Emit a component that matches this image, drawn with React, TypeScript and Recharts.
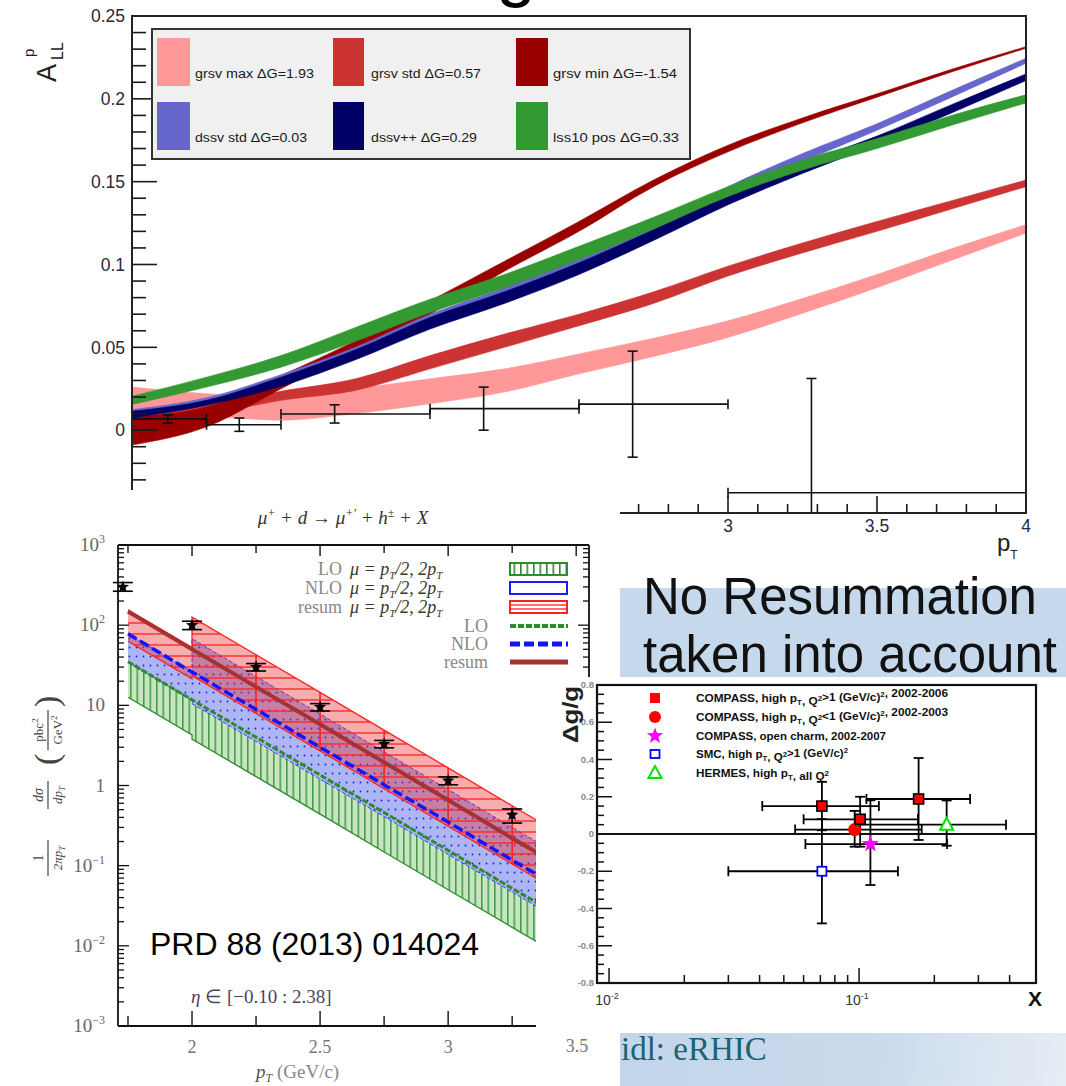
import React from "react";
import {
  ComposedChart, ScatterChart, Area, Line, Scatter,
  XAxis, YAxis, ErrorBar, ReferenceLine,
} from "recharts";

const SANS = "'Liberation Sans', Arial, Helvetica, sans-serif";
const SERIF = "'Liberation Serif', 'Times New Roman', serif";

// ── A_LL^p : model bands vs p_T ──────────────────────────────────────────────
const pTGrid = [1.0, 1.25, 1.5, 1.75, 2.0, 2.25, 2.5, 2.75, 3.0, 3.25, 3.5, 3.75, 4.0];
const grsvMaxLo = [0.006, 0.008, 0.006, 0.010, 0.016, 0.023, 0.034, 0.0445, 0.056, 0.0705, 0.086, 0.1025, 0.119];
const grsvMaxHi = [0.026, 0.022, 0.020, 0.025, 0.031, 0.037, 0.046, 0.0555, 0.066, 0.0795, 0.094, 0.1095, 0.124];
const grsvStdLo = [0.000, 0.009, 0.018, 0.024, 0.037, 0.050, 0.063, 0.0765, 0.093, 0.107, 0.120, 0.1335, 0.147];
const grsvStdHi = [0.007, 0.015, 0.0235, 0.031, 0.045, 0.058, 0.070, 0.0835, 0.099, 0.113, 0.126, 0.1385, 0.151];
const grsvMinLo = [-0.009, 0.002, 0.025, 0.048, 0.070, 0.096, 0.120, 0.147, 0.168, 0.1855, 0.201, 0.2162, 0.2305];
const grsvMinHi = [0.008, 0.014, 0.033, 0.054, 0.078, 0.102, 0.126, 0.151, 0.172, 0.1885, 0.203, 0.2178, 0.2315];
const dssvStdLo = [0.009, 0.016, 0.028, 0.044, 0.063, 0.079, 0.097, 0.118, 0.142, 0.162, 0.181, 0.201, 0.2215];
const dssvStdHi = [0.0125, 0.0195, 0.0335, 0.050, 0.070, 0.086, 0.104, 0.124, 0.147, 0.167, 0.185, 0.205, 0.2245];
const dssvPPLo = [0.0074, 0.015, 0.0265, 0.0425, 0.061, 0.0765, 0.094, 0.1145, 0.136, 0.155, 0.1725, 0.1915, 0.211];
const dssvPPHi = [0.0114, 0.018, 0.032, 0.0485, 0.068, 0.0835, 0.101, 0.121, 0.142, 0.161, 0.1775, 0.1965, 0.215];
const lss10Lo = [0.0155, 0.026, 0.038, 0.0536, 0.071, 0.086, 0.103, 0.1215, 0.141, 0.157, 0.170, 0.184, 0.1975];
const lss10Hi = [0.0205, 0.032, 0.045, 0.062, 0.079, 0.094, 0.111, 0.1285, 0.147, 0.163, 0.176, 0.190, 0.2025];

// measured asymmetry, one entry per p_T bin
const binCenter = [1.12, 1.36, 1.68, 2.18, 2.68, 3.28];
const binLow = [1.0, 1.25, 1.5, 2.0, 2.5, 3.0];
const binHigh = [1.25, 1.5, 2.0, 2.5, 3.0, 4.0];
const allValue = [0.0068, 0.0033, 0.0098, 0.013, 0.0157, -0.0378];
const allError = [0.0025, 0.004, 0.0055, 0.013, 0.032, 0.069];

const allTicksY = [-0.05, -0.04, -0.03, -0.02, -0.01, 0, 0.01, 0.02, 0.03, 0.04, 0.05, 0.06, 0.07, 0.08, 0.09, 0.1,
  0.11, 0.12, 0.13, 0.14, 0.15, 0.16, 0.17, 0.18, 0.19, 0.2, 0.21, 0.22, 0.23, 0.24, 0.25];
const allLabelY = [0, 0.05, 0.1, 0.15, 0.2, 0.25];
const allTicksX = [1, 1.1, 1.2, 1.3, 1.4, 1.5, 1.6, 1.7, 1.8, 1.9, 2, 2.1, 2.2, 2.3, 2.4, 2.5, 2.6, 2.7, 2.8, 2.9,
  3, 3.1, 3.2, 3.3, 3.4, 3.5, 3.6, 3.7, 3.8, 3.9, 4];
const allLabelX = [3, 3.5, 4];

const allLegend = [
  { label: "grsv max \u0394G=1.93", color: "#ff9999", w: 119 },
  { label: "grsv std \u0394G=0.57", color: "#cc3333", w: 110 },
  { label: "grsv min \u0394G=-1.54", color: "#990000", w: 124 },
  { label: "dssv std \u0394G=0.03", color: "#6666cc", w: 112 },
  { label: "dssv++ \u0394G=0.29", color: "#000066", w: 106 },
  { label: "lss10 pos \u0394G=0.33", color: "#339933", w: 126 },
];

// ── COMPASS cross section, mu d -> mu h X ───────────────────────────────────
const sigmaPt = [1.75, 2.0, 2.0, 2.25, 2.5, 2.75, 3.0, 3.25, 3.5];
const loBandLo = [12.6, 4.27, 3.8, 1.29, 0.44, 0.148, 0.05, 0.017, 0.0058];
const loBandHi = [34.7, 11.7, 12.0, 4.07, 1.38, 0.47, 0.158, 0.054, 0.018];
const nloBandLo = [34.7, 11.7, 10.5, 3.55, 1.2, 0.41, 0.138, 0.047, 0.0158];
const nloBandHi = [77.6, 26.3, 67.6, 22.9, 7.8, 2.63, 0.89, 0.3, 0.102];
const resumBandLo = [63, 21.4, 23.4, 7.9, 2.7, 0.91, 0.31, 0.105, 0.035];
const resumBandHi = [155, 52.5, 126, 42.7, 14.5, 4.9, 1.66, 0.56, 0.19];
const loCentral = [35, 11.7, 11.7, 4.0, 1.35, 0.46, 0.155, 0.052, 0.018];
const nloCentral = [78, 26, 26, 8.9, 3.0, 1.02, 0.35, 0.117, 0.04];
const resumCentral = [148, 50, 50, 17, 5.8, 1.95, 0.66, 0.22, 0.076];

const compassPt = [1.73, 2.0, 2.25, 2.5, 2.75, 3.0, 3.25];
const compassSigma = [300, 100, 30, 9.5, 3.3, 1.15, 0.43];
const compassErrLo = [35, 12, 3.2, 1.0, 0.35, 0.13, 0.09];
const compassErrHi = [40, 12, 3.2, 1.0, 0.35, 0.13, 0.08];

const blTicksX = [1.75, 2, 2.25, 2.5, 2.75, 3, 3.25, 3.5];
const blTicksY = [
  0.001, 0.002, 0.003, 0.004, 0.005, 0.006, 0.007, 0.008, 0.009,
  0.01, 0.02, 0.03, 0.04, 0.05, 0.06, 0.07, 0.08, 0.09,
  0.1, 0.2, 0.3, 0.4, 0.5, 0.6, 0.7, 0.8, 0.9,
  1, 2, 3, 4, 5, 6, 7, 8, 9,
  10, 20, 30, 40, 50, 60, 70, 80, 90,
  100, 200, 300, 400, 500, 600, 700, 800, 900, 1000,
];

// ── Delta g / g world data ──────────────────────────────────────────────────
const highPtQ2X = [0.071, 0.101, 0.173];
const highPtQ2Y = [0.15, 0.079, 0.188];
const highPtQ2XLo = [0.030, 0.041, 0.066];
const highPtQ2XHi = [0.049, 0.071, 0.105];
const highPtQ2YLo = [0.13, 0.147, 0.22];
const highPtQ2YHi = [0.13, 0.121, 0.22];

const lowQ2X = [0.096];
const lowQ2Y = [0.024];
const lowQ2XLo = [0.0405];
const lowQ2XHi = [0.082];
const lowQ2YLo = [0.092];
const lowQ2YHi = [0.10];

const charmX = [0.111];
const charmY = [-0.054];
const charmXLo = [0.05];
const charmXHi = [0.114];
const charmYLo = [0.22];
const charmYHi = [0.235];

const smcX = [0.071];
const smcY = [-0.2];
const smcXLo = [0.041];
const smcXHi = [0.072];
const smcYLo = [0.28];
const smcYHi = [0.28];

const hermesX = [0.224];
const hermesY = [0.05];
const hermesXLo = [0.124];
const hermesXHi = [0.163];
const hermesYLo = [0.113];
const hermesYHi = [0.13];

const dgTicksX = [0.01, 0.02, 0.03, 0.04, 0.05, 0.06, 0.07, 0.08, 0.09, 0.1, 0.2, 0.3, 0.4];
const dgTicksY = [-0.8, -0.75, -0.7, -0.65, -0.6, -0.55, -0.5, -0.45, -0.4, -0.35, -0.3, -0.25, -0.2, -0.15, -0.1,
  -0.05, 0, 0.05, 0.1, 0.15, 0.2, 0.25, 0.3, 0.35, 0.4, 0.45, 0.5, 0.55, 0.6, 0.65, 0.7, 0.75, 0.8];

// ── rows for the charts ─────────────────────────────────────────────────────
const allRows = pTGrid.map((p, i) => ({
  p,
  grsvMax: [grsvMaxLo[i], grsvMaxHi[i]],
  grsvStd: [grsvStdLo[i], grsvStdHi[i]],
  grsvMin: [grsvMinLo[i], grsvMinHi[i]],
  dssvStd: [dssvStdLo[i], dssvStdHi[i]],
  dssvPP: [dssvPPLo[i], dssvPPHi[i]],
  lss10: [lss10Lo[i], lss10Hi[i]],
}));

const binRows = binCenter.map((p, i) => ({
  p,
  a: allValue[i],
  ex: [p - binLow[i], binHigh[i] - p],
  ey: allError[i],
}));

const sigmaRows = sigmaPt.map((p, i) => ({
  p,
  lo: [loBandLo[i], loBandHi[i]],
  nlo: [nloBandLo[i], nloBandHi[i]],
  resum: [resumBandLo[i], resumBandHi[i]],
  loC: loCentral[i],
  nloC: nloCentral[i],
  resumC: resumCentral[i],
}));

const compassRows = compassPt.map((p, i) => ({
  p,
  v: compassSigma[i],
  e: [compassErrLo[i], compassErrHi[i]],
}));

const dgRows = (xs: number[], ys: number[], xl: number[], xh: number[], yl: number[], yh: number[]) =>
  xs.map((x, i) => ({ x, y: ys[i], ex: [xl[i], xh[i]], ey: [yl[i], yh[i]] }));

const highPtQ2Rows = dgRows(highPtQ2X, highPtQ2Y, highPtQ2XLo, highPtQ2XHi, highPtQ2YLo, highPtQ2YHi);
const lowQ2Rows = dgRows(lowQ2X, lowQ2Y, lowQ2XLo, lowQ2XHi, lowQ2YLo, lowQ2YHi);
const charmRows = dgRows(charmX, charmY, charmXLo, charmXHi, charmYLo, charmYHi);
const smcRows = dgRows(smcX, smcY, smcXLo, smcXHi, smcYLo, smcYHi);
const hermesRows = dgRows(hermesX, hermesY, hermesXLo, hermesXHi, hermesYLo, hermesYHi);

// ── helpers ─────────────────────────────────────────────────────────────────
const isMultiple = (v: number, step: number) => Math.abs(v / step - Math.round(v / step)) < 1e-6;
const isDecade = (v: number) => {
  const e = Math.log10(v);
  return Math.abs(e - Math.round(e)) < 1e-6;
};
const inList = (v: number, list: number[]) => list.some((t) => Math.abs(t - v) < 1e-6);
const fmt = (v: number) => String(Math.round(v * 100) / 100);

function starPath(cx: number, cy: number, R: number, r: number) {
  let d = "";
  for (let k = 0; k < 10; k++) {
    const ang = -Math.PI / 2 + (k * Math.PI) / 5;
    const rad = k % 2 === 0 ? R : r;
    d += (k === 0 ? "M" : "L") + (cx + rad * Math.cos(ang)).toFixed(2) + "," + (cy + rad * Math.sin(ang)).toFixed(2);
  }
  return d + "Z";
}

// ── tick renderers (ROOT style, ticks point into the frame) ─────────────────
const AllYTick = (p: any) => {
  const v = p.payload.value;
  const major = isMultiple(v, 0.05);
  return (
    <g>
      <line x1={p.x} x2={p.x + (major ? 25 : 14)} y1={p.y} y2={p.y} stroke="#1a1a1a" strokeWidth={1.6} />
      {inList(v, allLabelY) && (
        <text x={p.x - 7} y={p.y} dy="0.36em" textAnchor="end" fontFamily={SANS} fontSize={17.5} fill="#2a2a3a">
          {fmt(v)}
        </text>
      )}
    </g>
  );
};

const AllXTick = (p: any) => {
  const v = p.payload.value;
  const major = isMultiple(v, 0.5);
  return (
    <g>
      <line x1={p.x} x2={p.x} y1={p.y} y2={p.y - (major ? 17 : 9)} stroke="#1a1a1a" strokeWidth={1.6} />
      {inList(v, allLabelX) && (
        <text x={p.x} y={p.y + 19} textAnchor="middle" fontFamily={SANS} fontSize={17.5} fill="#2a2a3a">
          {fmt(v)}
        </text>
      )}
    </g>
  );
};

const decadeLabel = (v: number) => {
  const e = Math.round(Math.log10(v));
  if (e === 0) return <tspan>1</tspan>;
  if (e === 1) return <tspan>10</tspan>;
  return (
    <>
      <tspan>10</tspan>
      <tspan fontSize={12} dy={-8}>{e < 0 ? "\u2212" + -e : String(e)}</tspan>
    </>
  );
};

const BlLeftTick = (p: any) => {
  const v = p.payload.value;
  const major = isDecade(v);
  return (
    <g>
      <line x1={p.x} x2={p.x + (major ? 11 : 6)} y1={p.y} y2={p.y} stroke="#111" strokeWidth={1.3} />
      {major && (
        <text x={p.x - 13} y={p.y + 6} textAnchor="end" fontFamily={SERIF} fontSize={19} fill="#666">
          {decadeLabel(v)}
        </text>
      )}
    </g>
  );
};

const BlRightTick = (p: any) => {
  const major = isDecade(p.payload.value);
  return <line x1={p.x} x2={p.x - (major ? 11 : 6)} y1={p.y} y2={p.y} stroke="#111" strokeWidth={1.3} />;
};

const BlBottomTick = (p: any) => {
  const v = p.payload.value;
  const major = isMultiple(v, 0.5);
  return (
    <g>
      <line x1={p.x} x2={p.x} y1={p.y} y2={p.y - (major ? 15 : 10)} stroke="#111" strokeWidth={1.4} />
      {major && v < 3.4 && (
        <text x={p.x} y={p.y + 27} textAnchor="middle" fontFamily={SERIF} fontSize={18} fill="#777">
          {fmt(v)}
        </text>
      )}
    </g>
  );
};

const BlTopTick = (p: any) => {
  const major = isMultiple(p.payload.value, 0.5);
  return <line x1={p.x} x2={p.x} y1={p.y} y2={p.y + (major ? 11 : 8)} stroke="#111" strokeWidth={1.4} />;
};

const DgYTick = (p: any) => {
  const v = p.payload.value;
  const major = isMultiple(v, 0.2);
  return (
    <g>
      <line x1={p.x} x2={p.x + (major ? 15 : 7)} y1={p.y} y2={p.y} stroke="#111" strokeWidth={1.5} />
      {major && (
        <text x={p.x - 3} y={p.y + 3} textAnchor="end" fontFamily={SANS} fontWeight="bold" fontSize={9.5} fill="#8a8a8a">
          {fmt(v)}
        </text>
      )}
    </g>
  );
};

const DgXTick = (p: any) => {
  const v = p.payload.value;
  const major = isDecade(v);
  const e = Math.round(Math.log10(v));
  return (
    <g>
      <line x1={p.x} x2={p.x} y1={p.y} y2={p.y - (major ? 15 : 8)} stroke="#111" strokeWidth={1.5} />
      {major && (
        <text x={p.x - 2} y={p.y + 22} textAnchor="middle" fontFamily={SANS} fontSize={14} fill="#333">
          10<tspan fontSize={9} dy={-6}>{String(e)}</tspan>
        </text>
      )}
    </g>
  );
};

// ── marker shapes ───────────────────────────────────────────────────────────
const NoMark = () => <g />;
const BlackStar = (p: any) => <path d={starPath(p.cx, p.cy, 6.5, 2.8)} fill="#000" />;
const RedSquare = (p: any) => (
  <rect x={p.cx - 5} y={p.cy - 5} width={10} height={10} fill="#ff0000" stroke="#000" strokeWidth={1.6} />
);
const RedCircle = (p: any) => <circle cx={p.cx} cy={p.cy} r={6.5} fill="#ff0000" />;
const MagentaStar = (p: any) => <path d={starPath(p.cx, p.cy, 9, 3.8)} fill="#ff00ff" />;
const BlueOpenSquare = (p: any) => (
  <rect x={p.cx - 4.5} y={p.cy - 4.5} width={9} height={9} fill="#fff" stroke="#0000ff" strokeWidth={1.8} />
);
const GreenTriangle = (p: any) => (
  <path d={`M${p.cx},${p.cy - 7}L${p.cx + 6.5},${p.cy + 5}L${p.cx - 6.5},${p.cy + 5}Z`} fill="#fff" stroke="#00e000" strokeWidth={2} />
);

// ── panels ──────────────────────────────────────────────────────────────────
function AsymmetryChart() {
  const band = (key: string, color: string) => (
    <Area key={key} type="monotone" dataKey={key} fill={color} fillOpacity={1} stroke={color} strokeWidth={0.6}
      dot={false} activeDot={false} isAnimationActive={false} />
  );
  return (
    <ComposedChart width={1066} height={560} data={allRows} margin={{ top: 16, right: 40, bottom: 17, left: 72 }}>
      <defs>
        <clipPath id="allPlotClip">
          <rect x={132} y={16} width={894} height={497} />
        </clipPath>
      </defs>
      <XAxis dataKey="p" type="number" domain={[1, 4]} ticks={allTicksX} interval={0} allowDataOverflow
        height={30} tickSize={0} tickMargin={0} axisLine={false} tick={AllXTick} />
      <YAxis type="number" domain={[-0.05, 0.25]} ticks={allTicksY} interval={0} allowDataOverflow
        width={60} tickSize={0} tickMargin={0} axisLine={false} tick={AllYTick} />
      {band("grsvMax", "#ff9999")}
      {band("grsvStd", "#cc3333")}
      {band("grsvMin", "#990000")}
      {band("dssvStd", "#6666cc")}
      {band("dssvPP", "#000066")}
      {band("lss10", "#339933")}
      <Scatter data={binRows} dataKey="a" shape={NoMark} isAnimationActive={false}>
        <ErrorBar dataKey="ex" direction="x" width={5} stroke="#111" strokeWidth={1.6} />
        <ErrorBar dataKey="ey" direction="y" width={5} stroke="#111" strokeWidth={1.6} />
      </Scatter>
    </ComposedChart>
  );
}

function AsymmetryOverlay() {
  const colX = [157, 333, 516];
  const swW = [33, 31, 32];
  const txtX = [195, 371, 553];
  const rowY = [38, 102];
  return (
    <svg width={1066} height={580} style={{ position: "absolute", left: 0, top: 0 }}>
      <rect x={132} y={16} width={894} height={497} fill="none" stroke="#222" strokeWidth={2} />
      <rect x={152} y={29} width={538} height={130} fill="#f0f0f0" stroke="#333" strokeWidth={2} />
      {allLegend.map((l, i) => {
        const c = i % 3;
        const r = Math.floor(i / 3);
        return (
          <g key={l.label}>
            <rect x={colX[c]} y={rowY[r]} width={swW[c]} height={48} fill={l.color} />
            <text x={txtX[c]} y={rowY[r] + 40} fontFamily={SANS} fontSize={12.5} fill="#1a1a1a"
              textLength={l.w} lengthAdjust="spacingAndGlyphs">{l.label}</text>
          </g>
        );
      })}
      <g transform="translate(56,82) rotate(-90)" fontFamily={SANS} fill="#222">
        <text x={0} y={0} fontSize={27}>A</text>
        <text x={22} y={7} fontSize={16}>LL</text>
        <text x={25} y={-22} fontSize={15}>p</text>
      </g>
      <text x={997} y={551} fontFamily={SANS} fontSize={24} fill="#222">
        p<tspan fontSize={12} dy={8}>T</tspan>
      </text>
    </svg>
  );
}

function CrossSectionChart() {
  return (
    <ComposedChart width={620} height={596} data={sigmaRows} margin={{ top: 25, right: 1, bottom: 30, left: 58 }}>
      <defs>
        <pattern id="hatchLO" width={6.5} height={10} patternUnits="userSpaceOnUse">
          <rect width={6.5} height={10} fill="#c6e6c2" />
          <line x1={0.8} y1={0} x2={0.8} y2={10} stroke="#2e8b2e" strokeWidth={1.3} />
        </pattern>
        <pattern id="hatchNLO" width={7} height={9} patternUnits="userSpaceOnUse">
          <rect width={7} height={9} fill="#adb5f2" />
          <circle cx={3.5} cy={4.5} r={0.9} fill="#1a1aff" />
        </pattern>
        <pattern id="hatchResum" width={10} height={11} patternUnits="userSpaceOnUse">
          <rect width={10} height={11} fill="rgba(235,40,40,0.38)" />
          <line x1={0} y1={1} x2={10} y2={1} stroke="#ff1f1f" strokeWidth={1.3} />
        </pattern>
        <pattern id="keyLO" width={6.5} height={10} patternUnits="userSpaceOnUse">
          <rect width={6.5} height={10} fill="#fff" />
          <line x1={0.8} y1={0} x2={0.8} y2={10} stroke="#2e8b2e" strokeWidth={1.6} />
        </pattern>
        <pattern id="keyNLO" width={6} height={12} patternUnits="userSpaceOnUse">
          <rect width={6} height={12} fill="#fff" />
          <circle cx={3} cy={6} r={1} fill="#1a1aff" />
        </pattern>
        <pattern id="keyResum" width={10} height={4} patternUnits="userSpaceOnUse">
          <rect width={10} height={4} fill="#fff" />
          <line x1={0} y1={1} x2={10} y2={1} stroke="#ff1f1f" strokeWidth={1.3} />
        </pattern>
      </defs>
      <XAxis dataKey="p" type="number" domain={[1.711, 3.55]} ticks={blTicksX} interval={0} allowDataOverflow
        height={30} tickSize={0} tickMargin={0} axisLine={{ stroke: "#111", strokeWidth: 1.8 }} tick={BlBottomTick} />
      <XAxis xAxisId="top" orientation="top" dataKey="p" type="number" domain={[1.711, 3.55]} ticks={blTicksX}
        interval={0} allowDataOverflow height={30} tickSize={0} tickMargin={0}
        axisLine={{ stroke: "#111", strokeWidth: 1.8 }} tick={BlTopTick} />
      <YAxis type="number" scale="log" domain={[0.001, 1000]} ticks={blTicksY} interval={0} allowDataOverflow
        width={60} tickSize={0} tickMargin={0} axisLine={{ stroke: "#111", strokeWidth: 1.8 }} tick={BlLeftTick} />
      <YAxis yAxisId="right" orientation="right" type="number" scale="log" domain={[0.001, 1000]} ticks={blTicksY}
        interval={0} allowDataOverflow width={30} tickSize={0} tickMargin={0}
        axisLine={{ stroke: "#111", strokeWidth: 1.8 }} tick={BlRightTick} />
      <Area type="linear" dataKey="lo" fill="url(#hatchLO)" fillOpacity={1} stroke="#2e8b2e" strokeWidth={1.3}
        dot={false} activeDot={false} isAnimationActive={false} />
      <Area type="linear" dataKey="nlo" fill="url(#hatchNLO)" fillOpacity={1} stroke="#3a3aff" strokeWidth={1}
        strokeDasharray="4 2" dot={false} activeDot={false} isAnimationActive={false} />
      <Area type="linear" dataKey="resum" fill="url(#hatchResum)" fillOpacity={1} stroke="#ff2020" strokeWidth={1.3}
        dot={false} activeDot={false} isAnimationActive={false} />
      {sigmaRows.slice(3, 8).map((r) => (
        <ReferenceLine key={r.p} segment={[{ x: r.p, y: r.resum[0] }, { x: r.p, y: r.resum[1] }]}
          stroke="#ff2020" strokeWidth={1.6} />
      ))}
      <Line type="linear" dataKey="loC" stroke="#2e8b2e" strokeWidth={3} strokeDasharray="6 2"
        dot={false} activeDot={false} isAnimationActive={false} />
      <Line type="linear" dataKey="nloC" stroke="#1414ff" strokeWidth={3.5} strokeDasharray="10 4"
        dot={false} activeDot={false} isAnimationActive={false} />
      <Line type="linear" dataKey="resumC" stroke="#a83232" strokeWidth={4}
        dot={false} activeDot={false} isAnimationActive={false} />
      <Scatter data={compassRows} dataKey="v" shape={BlackStar} isAnimationActive={false}>
        <ErrorBar dataKey="e" direction="y" width={10} stroke="#000" strokeWidth={1.6} />
      </Scatter>
    </ComposedChart>
  );
}

function CrossSectionOverlay() {
  const muExpr = (
    <>
      <tspan>{"\u03bc = p"}</tspan>
      <tspan fontSize={11} dy={4}>T</tspan>
      <tspan dy={-4}>/2, 2p</tspan>
      <tspan fontSize={11} dy={4}>T</tspan>
    </>
  );
  const bandRows = [
    { name: "LO", y: 575, fill: "url(#keyLO)", stroke: "#2e8b2e" },
    { name: "NLO", y: 594, fill: "url(#keyNLO)", stroke: "#1a1aff" },
    { name: "resum", y: 613, fill: "url(#keyResum)", stroke: "#ff2020" },
  ];
  const lineRows = [
    { name: "LO", y: 632, stroke: "#2e8b2e", dash: "6 2", w: 4 },
    { name: "NLO", y: 650, stroke: "#1414ff", dash: "10 4", w: 5 },
    { name: "resum", y: 668, stroke: "#a83232", dash: undefined, w: 5 },
  ];
  return (
    <svg width={1066} height={1086} style={{ position: "absolute", left: 0, top: 0 }}>
      <text x={343} y={524} textAnchor="middle" fontFamily={SERIF} fontStyle="italic" fontSize={19} fill="#333">
        {"\u03bc"}<tspan fontSize={12} dy={-7}>+</tspan><tspan dy={7}>{" + d \u2192 \u03bc"}</tspan>
        <tspan fontSize={12} dy={-7}>{"+\u2032"}</tspan><tspan dy={7}>{" + h"}</tspan>
        <tspan fontSize={12} dy={-7}>{"\u00b1"}</tspan><tspan dy={7}>{" + X"}</tspan>
      </text>
      {bandRows.map((r) => (
        <g key={r.name}>
          <text x={342} y={r.y} textAnchor="end" fontFamily={SERIF} fontSize={18} fill="#888">{r.name}</text>
          <text x={350} y={r.y} fontFamily={SERIF} fontStyle="italic" fontSize={18} fill="#3a3a2a">{muExpr}</text>
          <rect x={510} y={r.y - 12} width={57} height={12} fill={r.fill} stroke={r.stroke} strokeWidth={2} />
        </g>
      ))}
      {lineRows.map((r) => (
        <g key={r.name + "l"}>
          <text x={488} y={r.y} textAnchor="end" fontFamily={SERIF} fontSize={18} fill="#888">{r.name}</text>
          <line x1={510} x2={568} y1={r.y - 6} y2={r.y - 6} stroke={r.stroke} strokeWidth={r.w} strokeDasharray={r.dash} />
        </g>
      ))}
      <g transform="translate(48,810) rotate(-90)" fontFamily={SERIF} fill="#444">
        <text x={-48} y={-5} textAnchor="middle" fontSize={14}>1</text>
        <line x1={-66} x2={-30} y1={0} y2={0} stroke="#444" strokeWidth={1.2} />
        <text x={-48} y={14} textAnchor="middle" fontSize={13} fontStyle="italic">
          2{"\u03c0"}p<tspan fontSize={9} dy={3}>T</tspan>
        </text>
        <text x={15} y={-5} textAnchor="middle" fontSize={14} fontStyle="italic">d{"\u03c3"}</text>
        <line x1={1} x2={29} y1={0} y2={0} stroke="#444" strokeWidth={1.2} />
        <text x={15} y={14} textAnchor="middle" fontSize={13} fontStyle="italic">
          dp<tspan fontSize={9} dy={3}>T</tspan>
        </text>
        <text x={45} y={10} fontSize={34}>(</text>
        <text x={80} y={-5} textAnchor="middle" fontSize={13}>pbc<tspan fontSize={9} dy={-5}>2</tspan></text>
        <line x1={60} x2={100} y1={0} y2={0} stroke="#444" strokeWidth={1.2} />
        <text x={80} y={14} textAnchor="middle" fontSize={13}>GeV<tspan fontSize={9} dy={-5}>2</tspan></text>
        <text x={103} y={10} fontSize={34}>)</text>
      </g>
      <text x={150} y={955} fontFamily={SANS} fontSize={32} fill="#000">PRD 88 (2013) 014024</text>
      <text x={191} y={1003} fontFamily={SERIF} fontSize={19} fill="#4d4262">
        <tspan fontStyle="italic">{"\u03b7"}</tspan>{" \u2208 [\u22120.10 : 2.38]"}
      </text>
      <text x={256} y={1078} fontFamily={SERIF} fontSize={19} fill="#555">
        <tspan fontStyle="italic">p</tspan><tspan fontSize={12} dy={4} fontStyle="italic">T</tspan>
        <tspan dy={-4} fill="#888">{" (GeV/c)"}</tspan>
      </text>
    </svg>
  );
}

function GluonChart() {
  const bars = (
    <>
      <ErrorBar dataKey="ex" direction="x" width={5} stroke="#000" strokeWidth={1.8} />
      <ErrorBar dataKey="ey" direction="y" width={5} stroke="#000" strokeWidth={1.8} />
    </>
  );
  return (
    <ScatterChart width={530} height={353} margin={{ top: 8, right: 30, bottom: 17, left: 21 }}>
      <XAxis dataKey="x" type="number" scale="log" domain={[0.00895, 0.51]} ticks={dgTicksX} interval={0}
        allowDataOverflow height={30} tickSize={0} tickMargin={0} axisLine={false} tick={DgXTick} />
      <YAxis dataKey="y" type="number" domain={[-0.8, 0.8]} ticks={dgTicksY} interval={0} allowDataOverflow
        width={40} tickSize={0} tickMargin={0} axisLine={false} tick={DgYTick} />
      <ReferenceLine y={0} stroke="#111" strokeWidth={1.8} />
      <Scatter data={smcRows} shape={BlueOpenSquare} isAnimationActive={false}>{bars}</Scatter>
      <Scatter data={hermesRows} shape={GreenTriangle} isAnimationActive={false}>{bars}</Scatter>
      <Scatter data={lowQ2Rows} shape={RedCircle} isAnimationActive={false}>{bars}</Scatter>
      <Scatter data={charmRows} shape={MagentaStar} isAnimationActive={false}>{bars}</Scatter>
      <Scatter data={highPtQ2Rows} shape={RedSquare} isAnimationActive={false}>{bars}</Scatter>
    </ScatterChart>
  );
}

function GluonOverlay() {
  const sup = (s: string) => <tspan fontSize={7} dy={-4}>{s}</tspan>;
  const sub = (s: string) => <tspan fontSize={7} dy={3}>{s}</tspan>;
  const back = (dy: number) => <tspan dy={dy}>{""}</tspan>;
  const mx = 655;
  const adj = { lengthAdjust: "spacingAndGlyphs" as const };
  return (
    <svg width={1066} height={1086} style={{ position: "absolute", left: 0, top: 0 }}>
      <rect x={597} y={685} width={439} height={298} fill="none" stroke="#111" strokeWidth={2.2} />
      <text transform="translate(578,743) rotate(-90)" fontFamily={SANS} fontWeight="bold" fontSize={22}
        fill="#222" textLength={57} lengthAdjust="spacingAndGlyphs">{"\u0394g/g"}</text>
      <text x={1035} y={1006} textAnchor="middle" fontFamily={SANS} fontWeight="bold" fontSize={21} fill="#111">X</text>
      <rect x={mx - 5} y={693} width={10} height={10} fill="#ff0000" />
      <circle cx={mx} cy={717} r={6} fill="#ff0000" />
      <path d={starPath(mx, 736, 8.5, 3.6)} fill="#ff00ff" />
      <rect x={mx - 4.5} y={750} width={9} height={8} fill="#fff" stroke="#0000ff" strokeWidth={1.8} />
      <path d={`M${mx},${766}L${mx + 6.5},${778}L${mx - 6.5},${778}Z`} fill="#fff" stroke="#00e000" strokeWidth={2} />
      <g fontFamily={SANS} fontWeight="bold" fontSize={10.5} fill="#111">
        <text x={696} y={702} textLength={252} {...adj}>COMPASS, high p{sub("T")}{back(-3)}, Q{sup("2")}{back(4)}&gt;1 (GeV/c){sup("2")}{back(4)}, 2002-2006</text>
        <text x={696} y={721} textLength={252} {...adj}>COMPASS, high p{sub("T")}{back(-3)}, Q{sup("2")}{back(4)}&lt;1 (GeV/c){sup("2")}{back(4)}, 2002-2003</text>
        <text x={696} y={740} textLength={190} {...adj}>COMPASS, open charm, 2002-2007</text>
        <text x={696} y={758} textLength={152} {...adj}>SMC, high p{sub("T")}{back(-3)}, Q{sup("2")}{back(4)}&gt;1 (GeV/c){sup("2")}</text>
        <text x={696} y={777} textLength={133} {...adj}>HERMES, high p{sub("T")}{back(-3)}, all Q{sup("2")}</text>
      </g>
    </svg>
  );
}

export default function App() {
  return (
    <div style={{ position: "absolute", left: 0, top: 0, width: 1066, height: 1086, overflow: "hidden", background: "#fff" }}>
      <style>{".all-chart .recharts-scatter, .all-chart .recharts-errorBars { clip-path: url(#allPlotClip); }"}</style>
      <svg width={1066} height={20} style={{ position: "absolute", left: 0, top: 0 }}>
        <text x={496} y={-7} fontFamily={SANS} fontSize={72} fill="#000">g</text>
      </svg>
      <div className="all-chart" style={{ position: "absolute", left: 0, top: 0 }}>
        <AsymmetryChart />
      </div>
      <AsymmetryOverlay />
      <div style={{ position: "absolute", left: 0, top: 490, width: 620, height: 596, background: "#fff" }}>
        <CrossSectionChart />
      </div>
      <CrossSectionOverlay />
      <div style={{ position: "absolute", left: 620, top: 588, width: 446, height: 92, background: "#c6d8eb" }} />
      <svg width={1066} height={690} style={{ position: "absolute", left: 0, top: 0 }}>
        <text x={643} y={614} fontFamily={SANS} fontSize={51} fill="#111">No Resummation</text>
        <text x={643} y={672} fontFamily={SANS} fontSize={51} fill="#111">taken into account</text>
      </svg>
      <div style={{ position: "absolute", left: 536, top: 677, width: 530, height: 353, background: "#fff" }}>
        <GluonChart />
      </div>
      <GluonOverlay />
      <div style={{
        position: "absolute", left: 620, top: 1033, width: 446, height: 53,
        background: "linear-gradient(100deg, #c2d5ea 0%, #c9daec 55%, #e6edf5 100%)",
      }} />
      <svg width={1066} height={1086} style={{ position: "absolute", left: 0, top: 0 }}>
        <text x={577} y={1052} textAnchor="middle" fontFamily={SERIF} fontSize={18} fill="#777">3.5</text>
        <text x={621} y={1060} fontFamily={SERIF} fontSize={33} fill="#1d6272">idl: eRHIC</text>
      </svg>
    </div>
  );
}
